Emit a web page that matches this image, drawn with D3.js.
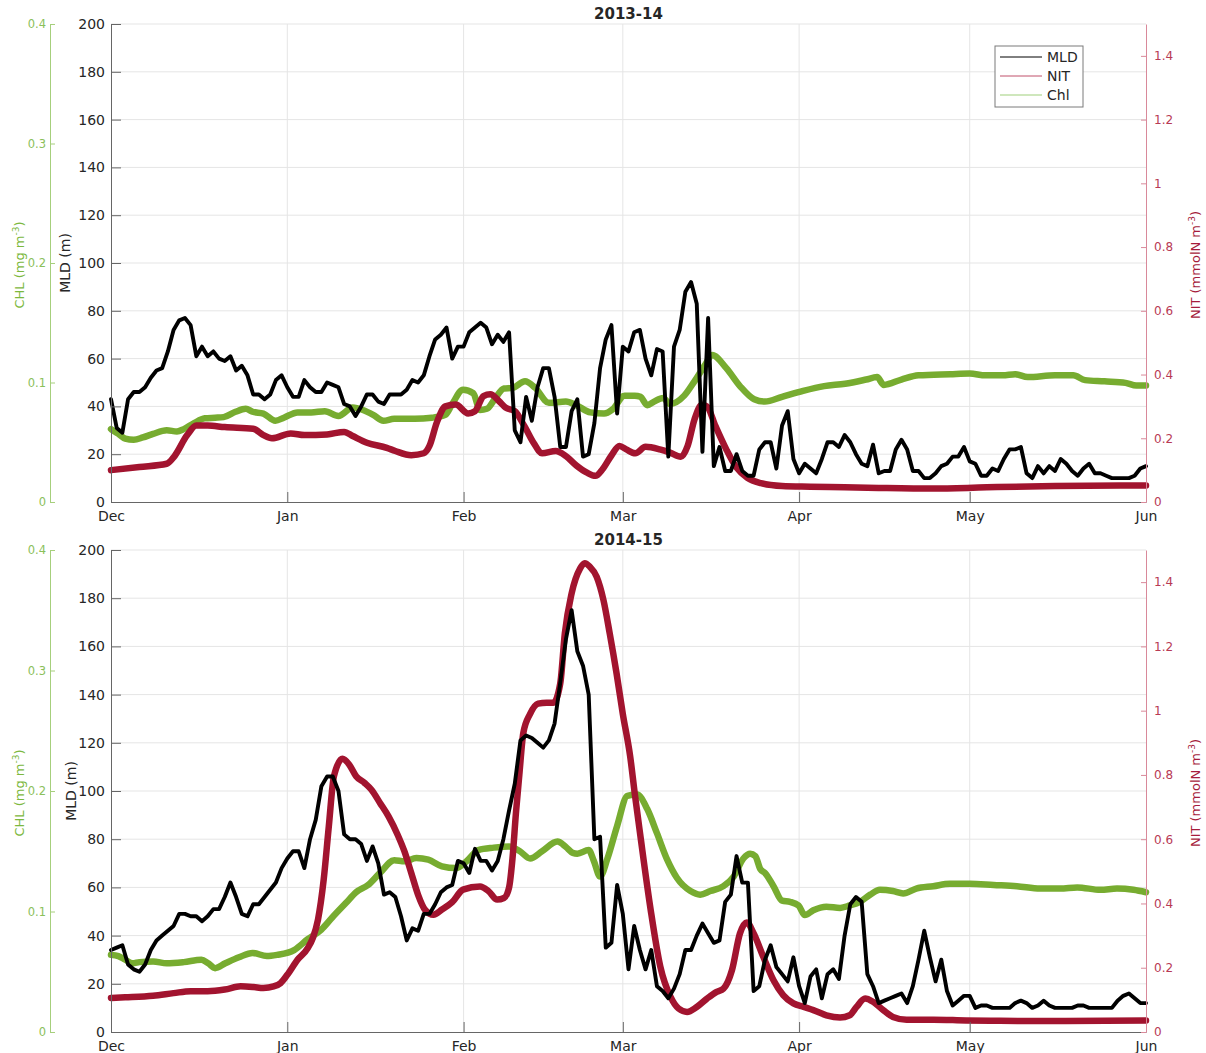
<!DOCTYPE html>
<html>
<head>
<meta charset="utf-8">
<script src="https://cdn.jsdelivr.net/npm/d3@7"></script>
<style>
  body { margin: 0; background: #fff; }
  text { font-family: 'DejaVu Sans', sans-serif; }
</style>
</head>
<body>
<div id="chart"></div>
<script>
const seasons = ['2013-14', '2014-15']
const startYears = [2013, 2014]
const mldTicks = [0, 20, 40, 60, 80, 100, 120, 140, 160, 180, 200]
const nitTicks = [0, 0.2, 0.4, 0.6, 0.8, 1, 1.2, 1.4]
const chlTicks = [0, 0.1, 0.2, 0.3, 0.4]
const legendNames = ['MLD', 'NIT', 'Chl']

// daily MLD (m), day 0 = 1 Dec
const mld1314 = [
  43, 31, 29, 43, 46, 46, 48, 52, 55, 56,
  63, 72, 76, 77, 74, 61, 65, 61, 63, 60,
  59, 61, 55, 57, 53, 45, 45, 43, 45, 51,
  53, 48, 44, 44, 51, 48, 46, 46, 50, 49,
  48, 41, 40, 36, 40, 45, 45, 42, 41, 45,
  45, 45, 47, 51, 50, 53, 61, 68, 70, 73,
  60, 65, 65, 71, 73, 75, 73, 66, 70, 67,
  71, 30, 25, 44, 34, 48, 56, 56, 44, 23,
  23, 38, 43, 19, 20, 33, 56, 68, 74, 37,
  65, 63, 71, 72, 60, 53, 64, 63, 19, 65,
  72, 88, 92, 83, 21, 77, 15, 23, 13, 13,
  20, 13, 11, 11, 22, 25, 25, 14, 32, 38,
  18, 12, 16, 14, 12, 18, 25, 25, 23, 28,
  25, 20, 16, 15, 24, 12, 13, 13, 22, 26,
  22, 13, 13, 10, 10, 12, 15, 16, 19, 19,
  23, 17, 16, 11, 11, 14, 13, 18, 22, 22,
  23, 12, 10, 15, 12, 15, 13, 18, 16, 13,
  11, 14, 16, 12, 12, 11, 10, 10, 10, 10,
  11, 14, 15
]
const mld1415 = [
  34, 35, 36, 28, 26, 25, 28, 34, 38, 40,
  42, 44, 49, 49, 48, 48, 46, 48, 51, 51,
  56, 62, 56, 49, 48, 53, 53, 56, 59, 62,
  68, 72, 75, 75, 68, 80, 88, 102, 106, 106,
  100, 82, 80, 80, 78, 71, 77, 70, 57, 58,
  56, 48, 38, 43, 42, 49, 49, 53, 58, 60,
  61, 71, 70, 66, 76, 71, 71, 67, 71, 80,
  92, 103, 121, 123, 122, 120, 118, 121, 128, 145,
  163, 175, 158, 152, 140, 80, 81, 35, 37, 61,
  49, 26, 44, 34, 26, 34, 19, 17, 14, 18,
  24, 34, 34, 40, 45, 41, 37, 38, 54, 57,
  73, 62, 62, 17, 19, 30, 36, 27, 24, 21,
  31, 19, 12, 23, 26, 14, 24, 26, 22, 40,
  53, 56, 54, 24, 19, 12, 13, 14, 15, 16,
  12, 19, 30, 42, 31, 21, 30, 17, 11, 13,
  15, 15, 10, 11, 11, 10, 10, 10, 10, 12,
  13, 12, 10, 11, 13, 11, 10, 10, 10, 10,
  11, 11, 10, 10, 10, 10, 10, 13, 15, 16,
  14, 12, 12
]

// [day since 1 Dec, mmolN m-3]
const nit1314 = [
  [0, 0.10], [5, 0.11], [9.8, 0.12], [11, 0.14], [13.4, 0.21], [15, 0.24], [17, 0.24],
  [20, 0.235], [25, 0.23], [26.8, 0.21], [28.3, 0.2], [31.6, 0.215], [34, 0.21], [38, 0.212],
  [41, 0.22], [42.5, 0.207], [45, 0.186], [48.5, 0.17], [50, 0.16], [52.8, 0.147], [55, 0.153],
  [56, 0.176], [57.3, 0.25], [58.8, 0.3], [60.6, 0.306], [62.8, 0.278], [64, 0.285],
  [65.5, 0.332], [66.7, 0.338], [68.2, 0.317], [69.4, 0.296], [71, 0.285], [72.7, 0.238],
  [74.3, 0.186], [75.8, 0.153], [78.2, 0.16], [80, 0.144], [81.8, 0.115], [83.7, 0.092],
  [85.2, 0.082], [86.4, 0.102], [88, 0.146], [89.4, 0.176], [90.6, 0.165], [92.2, 0.153],
  [94, 0.173], [96.5, 0.165], [98.3, 0.155], [100.2, 0.142], [101.4, 0.176], [102.6, 0.259],
  [103.9, 0.305], [104.8, 0.3], [106.3, 0.238], [108.2, 0.165], [110, 0.108], [111.9, 0.076],
  [114.3, 0.059], [118, 0.05], [123, 0.048], [129, 0.046], [135, 0.044], [144.5, 0.042],
  [154, 0.046], [166, 0.05], [182, 0.052]
]
const nit1415 = [
  [0, 0.106], [2.5, 0.108], [7.4, 0.113], [11, 0.121], [14, 0.127], [17, 0.127], [20, 0.132],
  [22.8, 0.142], [25, 0.14], [26.8, 0.137], [28.6, 0.142], [29.8, 0.152], [31, 0.178],
  [32.8, 0.225], [34.6, 0.261], [35.5, 0.293], [36.4, 0.35], [37.4, 0.474], [38.3, 0.64],
  [39.2, 0.796], [40.7, 0.85], [41.9, 0.832], [43.1, 0.796], [44.6, 0.775], [45.8, 0.754],
  [47.3, 0.713], [48.8, 0.671], [50.4, 0.614], [51.6, 0.562], [52.8, 0.495], [54, 0.427],
  [55.2, 0.381], [56.7, 0.365], [58.2, 0.381], [60, 0.404], [61.9, 0.443], [64.9, 0.453],
  [66.4, 0.438], [67.9, 0.412], [69.1, 0.417], [70, 0.45], [70.6, 0.54], [71.2, 0.68],
  [71.8, 0.8], [72.5, 0.93], [73.7, 0.99], [75.1, 1.022], [76.6, 1.025], [77.8, 1.025],
  [79, 1.085], [79.8, 1.24], [81, 1.365], [82.5, 1.443], [83.3, 1.459], [84.2, 1.448],
  [85.4, 1.417], [86.6, 1.344], [87.7, 1.24], [88.9, 1.116], [90, 0.99], [91.3, 0.857],
  [92.1, 0.742], [93.1, 0.609], [94.9, 0.38], [96.6, 0.203], [98.4, 0.109], [99.8, 0.073],
  [101.3, 0.0625], [103, 0.078], [104.8, 0.104], [106.5, 0.125], [107.7, 0.135],
  [109.2, 0.193], [110.6, 0.307], [111.8, 0.341], [113, 0.307], [114.7, 0.234],
  [116.5, 0.161], [118.2, 0.115], [120, 0.089], [121.8, 0.078], [123.5, 0.068],
  [125.8, 0.052], [128.2, 0.045], [129.9, 0.052], [131.1, 0.078], [132.6, 0.104],
  [134, 0.094], [135.8, 0.068], [137.5, 0.047], [139.9, 0.0385], [144.6, 0.0385],
  [150.4, 0.036], [156.3, 0.035], [166, 0.034], [182, 0.036]
]

// [day since 1 Dec, mg m-3]
const chl1314 = [
  [0, 0.061], [1.3, 0.057], [2.5, 0.053], [4, 0.052], [5.6, 0.054], [7.4, 0.057], [9.8, 0.06],
  [11.6, 0.059], [12.8, 0.061], [14.6, 0.066], [16.5, 0.07], [18.3, 0.0705], [19.8, 0.071],
  [21.9, 0.0755], [23.7, 0.078], [24.9, 0.0755], [26.8, 0.074], [28.9, 0.068], [30.4, 0.0705],
  [32.8, 0.075], [35.2, 0.075], [37.6, 0.076], [40, 0.072], [42.5, 0.079], [44.3, 0.077],
  [46.1, 0.073], [47.9, 0.068], [49.8, 0.0696], [53.4, 0.0696], [56.4, 0.0705], [58.8, 0.073],
  [60, 0.082], [61.9, 0.094], [63.7, 0.091], [64.9, 0.077], [66.1, 0.078], [67.6, 0.087],
  [69.1, 0.095], [70.6, 0.0955], [72.8, 0.101], [74.6, 0.0955], [77, 0.083], [80, 0.084],
  [81.8, 0.081], [84.3, 0.075], [86.7, 0.074], [88.2, 0.0775], [90.3, 0.089], [92.1, 0.089],
  [93.1, 0.088], [94.3, 0.081], [95.5, 0.084], [97.1, 0.087], [98.3, 0.082], [100.8, 0.089],
  [102.6, 0.101], [104.5, 0.115], [105.7, 0.123], [108.2, 0.112], [110.6, 0.097],
  [113.1, 0.086], [115, 0.084], [118, 0.088], [121.7, 0.093], [125.4, 0.097], [129.1, 0.099],
  [132.8, 0.1025], [134.7, 0.1045], [135.9, 0.098], [139, 0.1025], [142, 0.106],
  [147.6, 0.107], [151, 0.1075], [153.8, 0.106], [156.8, 0.106], [159, 0.107],
  [161.2, 0.1045], [166, 0.106], [169.2, 0.106], [171.3, 0.102], [174.7, 0.101],
  [178.4, 0.0997], [180.3, 0.0975], [182, 0.0975]
]
const chl1415 = [
  [0, 0.064], [1.3, 0.063], [2.5, 0.06], [3.8, 0.057], [5, 0.058], [7.4, 0.0586], [9.8, 0.057],
  [12.8, 0.058], [15.9, 0.06], [17.1, 0.057], [18.3, 0.053], [20.1, 0.057], [22.5, 0.062],
  [24.9, 0.0656], [27.4, 0.063], [29.2, 0.064], [32.2, 0.068], [34.6, 0.077], [37, 0.085],
  [38.9, 0.095], [41.3, 0.107], [43.1, 0.116], [45.2, 0.122], [47.3, 0.132], [49.8, 0.1425],
  [51.6, 0.1416], [53.7, 0.1444], [55.8, 0.143], [58.2, 0.1375], [60.7, 0.136],
  [62.5, 0.1416], [64.6, 0.151], [67.3, 0.153], [70, 0.154], [71.9, 0.15], [73.7, 0.144],
  [75.8, 0.15], [78.5, 0.158], [80, 0.1535], [81.2, 0.1486], [82, 0.148], [84, 0.151],
  [84.9, 0.142], [86, 0.129], [87.3, 0.144], [89, 0.171], [90.8, 0.196], [92.5, 0.197],
  [94.3, 0.185], [96, 0.165], [97.8, 0.143], [99.5, 0.128], [101.9, 0.117], [103.6, 0.114],
  [105.4, 0.117], [107.7, 0.121], [109.5, 0.129], [111.2, 0.144], [112.4, 0.148],
  [113.3, 0.146], [114.2, 0.135], [115, 0.132], [116.5, 0.121], [118, 0.109], [119.4, 0.108],
  [120.9, 0.105], [122, 0.097], [123.5, 0.101], [125.8, 0.104], [128.2, 0.103],
  [129.9, 0.105], [131.7, 0.108], [133.5, 0.114], [135.2, 0.118], [137.5, 0.117],
  [139.3, 0.115], [141.6, 0.119], [144.6, 0.121], [147.5, 0.123], [151, 0.123],
  [155.2, 0.122], [159.3, 0.121], [163.4, 0.119], [166.9, 0.119], [169.9, 0.12], [174, 0.118],
  [176.9, 0.119], [179.8, 0.118], [182, 0.116]
]

const mldSeries = [mld1314, mld1415]
const nitSeries = [nit1314, nit1415]
const chlSeries = [chl1314, chl1415]

const W = 1206, H = 1053
const left = 111, right = 1146
const panels = [{ top: 24, bottom: 502 }, { top: 550, bottom: 1032 }]

const colMLD = '#000000', colNIT = '#a2142f', colCHL = '#77ac30'
const axisGray = '#262626'

const svg = d3.select('#chart').append('svg')
  .attr('width', W).attr('height', H)
  .style('display', 'block')

const dayMs = 864e5

panels.forEach((p, k) => {
  const start = new Date(Date.UTC(startYears[k], 11, 1))
  const end = new Date(Date.UTC(startYears[k] + 1, 5, 1))
  const toDate = (day) => new Date(start.getTime() + day * dayMs)
  const monthDates = d3.utcMonth.range(start, d3.utcDay.offset(end, 1))

  const x = d3.scaleUtc().domain([start, end]).range([left, right])
  const y = d3.scaleLinear().domain([0, 200]).range([p.bottom, p.top])
  const yN = d3.scaleLinear().domain([0, 1.5]).range([p.bottom, p.top])
  const yC = d3.scaleLinear().domain([0, 0.4]).range([p.bottom, p.top])

  const g = svg.append('g')

  // grid
  g.append('g').selectAll('line.h').data(mldTicks.slice(1)).join('line')
    .attr('x1', left).attr('x2', right)
    .attr('y1', (d) => y(d)).attr('y2', (d) => y(d))
    .attr('stroke', '#e5e5e5').attr('stroke-width', 1)
  g.append('g').selectAll('line.v').data(monthDates.slice(1, -1)).join('line')
    .attr('x1', (d) => x(d)).attr('x2', (d) => x(d))
    .attr('y1', p.top).attr('y2', p.bottom)
    .attr('stroke', '#e5e5e5').attr('stroke-width', 1)

  // lines
  const chlLine = d3.line().x((d) => x(toDate(d[0]))).y((d) => yC(d[1])).curve(d3.curveMonotoneX)
  const nitLine = d3.line().x((d) => x(toDate(d[0]))).y((d) => yN(d[1])).curve(d3.curveMonotoneX)
  const mldLine = d3.line().x((d, i) => x(toDate(i))).y((d) => y(d))

  g.append('path').datum(chlSeries[k]).attr('d', chlLine)
    .attr('fill', 'none').attr('stroke', colCHL).attr('stroke-width', 6.5)
    .attr('stroke-linejoin', 'round').attr('stroke-linecap', 'round')
  g.append('path').datum(nitSeries[k]).attr('d', nitLine)
    .attr('fill', 'none').attr('stroke', colNIT).attr('stroke-width', 6.5)
    .attr('stroke-linejoin', 'round').attr('stroke-linecap', 'round')
  g.append('path').datum(mldSeries[k]).attr('d', mldLine)
    .attr('fill', 'none').attr('stroke', colMLD).attr('stroke-width', 3.9)
    .attr('stroke-linejoin', 'round').attr('stroke-linecap', 'round')

  // MLD axis
  const ax = g.append('g').attr('transform', `translate(${left},0)`)
    .call(d3.axisLeft(y).tickValues(mldTicks).tickSizeInner(-10).tickSizeOuter(0).tickPadding(6))
  ax.select('.domain').attr('stroke', '#666')
  ax.selectAll('.tick line').attr('stroke', '#666')
  ax.selectAll('text').attr('fill', axisGray).style('font-size', '14px')

  // time axis
  const bx = g.append('g').attr('transform', `translate(0,${p.bottom})`)
    .call(d3.axisBottom(x).tickValues(monthDates).tickSizeInner(-10).tickSizeOuter(0)
      .tickPadding(9).tickFormat(d3.utcFormat('%b')))
  bx.select('.domain').attr('stroke', '#666')
  bx.selectAll('.tick line').attr('stroke', '#666')
  bx.selectAll('text').attr('fill', axisGray).style('font-size', '14px')

  // CHL axis
  const cx = g.append('g').attr('transform', `translate(50,0)`)
    .call(d3.axisLeft(yC).tickValues(chlTicks).tickSizeInner(-5).tickSizeOuter(0).tickPadding(4)
      .tickFormat((d) => (d === 0 ? '0' : d3.format('.1f')(d))))
  cx.select('.domain').attr('stroke', '#a6cf7c')
  cx.selectAll('.tick line').attr('stroke', '#a6cf7c')
  cx.selectAll('text').attr('fill', '#8bc05a').style('font-size', '11.5px')

  // NIT axis
  const nx = g.append('g').attr('transform', `translate(${right},0)`)
    .call(d3.axisRight(yN).tickValues(nitTicks).tickSizeInner(-5).tickSizeOuter(0).tickPadding(8)
      .tickFormat((d) => (d === 0 || d === 1 ? String(d) : d3.format('.1f')(d))))
  nx.select('.domain').attr('stroke', '#d9899a')
  nx.selectAll('.tick line').attr('stroke', '#d9899a')
  nx.selectAll('text').attr('fill', '#b83a55').style('font-size', '12px')

  const mid = (p.top + p.bottom) / 2

  // axis labels
  g.append('text')
    .attr('transform', `translate(${k === 0 ? 70 : 76},${mid}) rotate(-90)`)
    .attr('text-anchor', 'middle').attr('fill', axisGray).style('font-size', '14px')
    .text('MLD (m)')

  const cl = g.append('text')
    .attr('transform', `translate(24,${mid + 2}) rotate(-90)`)
    .attr('text-anchor', 'middle').attr('fill', '#7cb83e').style('font-size', '13px')
  cl.append('tspan').text('CHL (mg m')
  cl.append('tspan').attr('dy', -5).style('font-size', '9px').text('-3')
  cl.append('tspan').attr('dy', 5).text(')')

  const nl = g.append('text')
    .attr('transform', `translate(1200,${mid + 2}) rotate(-90)`)
    .attr('text-anchor', 'middle').attr('fill', '#a61c3c').style('font-size', '13px')
  nl.append('tspan').text('NIT (mmolN m')
  nl.append('tspan').attr('dy', -5).style('font-size', '9px').text('-3')
  nl.append('tspan').attr('dy', 5).text(')')

  // title
  g.append('text')
    .attr('x', (left + right) / 2).attr('y', p.top - 5)
    .attr('text-anchor', 'middle').attr('fill', axisGray)
    .style('font-size', '15px').style('font-weight', 'bold')
    .text(seasons[k])
})

// legend (top panel)
const legendColors = [colMLD, '#c0506a', '#9fcf7a']
const lg = svg.append('g').attr('transform', 'translate(995,46)')
lg.append('rect').attr('width', 88).attr('height', 61)
  .attr('fill', '#fff').attr('stroke', '#7a7a7a').attr('stroke-width', 1)
legendNames.forEach((name, i) => {
  const yy = 11 + i * 19
  lg.append('line').attr('x1', 5).attr('x2', 47).attr('y1', yy).attr('y2', yy)
    .attr('stroke', legendColors[i]).attr('stroke-width', 1)
  lg.append('text').attr('x', 52).attr('y', yy + 5)
    .attr('fill', axisGray).style('font-size', '14px').text(name)
})
</script>
</body>
</html>
